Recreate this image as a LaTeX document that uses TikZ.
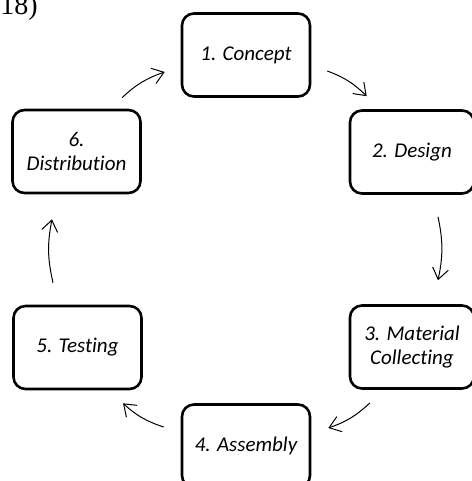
\documentclass[tikz,border=0pt]{standalone}
\usepackage{fontspec}
\setmainfont[Ligatures=NoCommon]{Carlito}
\newfontfamily\timesfont{Liberation Serif}
\usetikzlibrary{arrows.meta,calc}

\begin{document}
\begin{tikzpicture}[x=0.5pt,y=-0.5pt]
    \tikzstyle{stage}=[draw,line width=1.3pt,rounded corners=6pt,minimum width=64pt,minimum height=41.5pt,align=center,font=\itshape\fontsize{10.5}{12}\selectfont]
    \tikzstyle{flow}=[line width=0.5pt,-{Straight Barb[length=5.5pt,width=8pt]},bend left=12]
    \useasboundingbox (0,0) rectangle (471,481);
    \node[anchor=base east,inner sep=0pt,font=\timesfont\fontsize{14}{14}\selectfont] (cite) at (38,15) {18)};
    \node[stage] (concept) at (246,55) {1. Concept};
    \node[stage,minimum width=62pt] (design) at (412,152) {2. Design};
    \node[stage,minimum width=62pt] (material) at (412,347) {3. Material\\Collecting};
    \node[stage] (assembly) at (246,446) {4. Assembly};
    \node[stage] (testing) at (77.5,347.5) {5. Testing};
    \node[stage] (distrib) at (76.5,151.5) {6.\\Distribution};
    \draw[flow] ($(concept.east)+(16,16)$) to ($(design.north west)+(18,-13)$);
    \draw[flow] ($(design.south)+(26,22)$) to ($(material.north)+(26,-24)$);
    \draw[flow] ($(material.south)+(-42,13)$) to ($(assembly.east)+(17,-18)$);
    \draw[flow] ($(assembly.west)+(-17,-19)$) to ($(testing.south)+(45.5,13)$);
    \draw[flow] ($(testing.north)+(-24.5,-22)$) to ($(distrib.south)+(-24.5,25)$);
    \draw[flow] ($(distrib.north)+(45.5,-11)$) to ($(concept.west)+(-16,17)$);
\end{tikzpicture}
\end{document}
